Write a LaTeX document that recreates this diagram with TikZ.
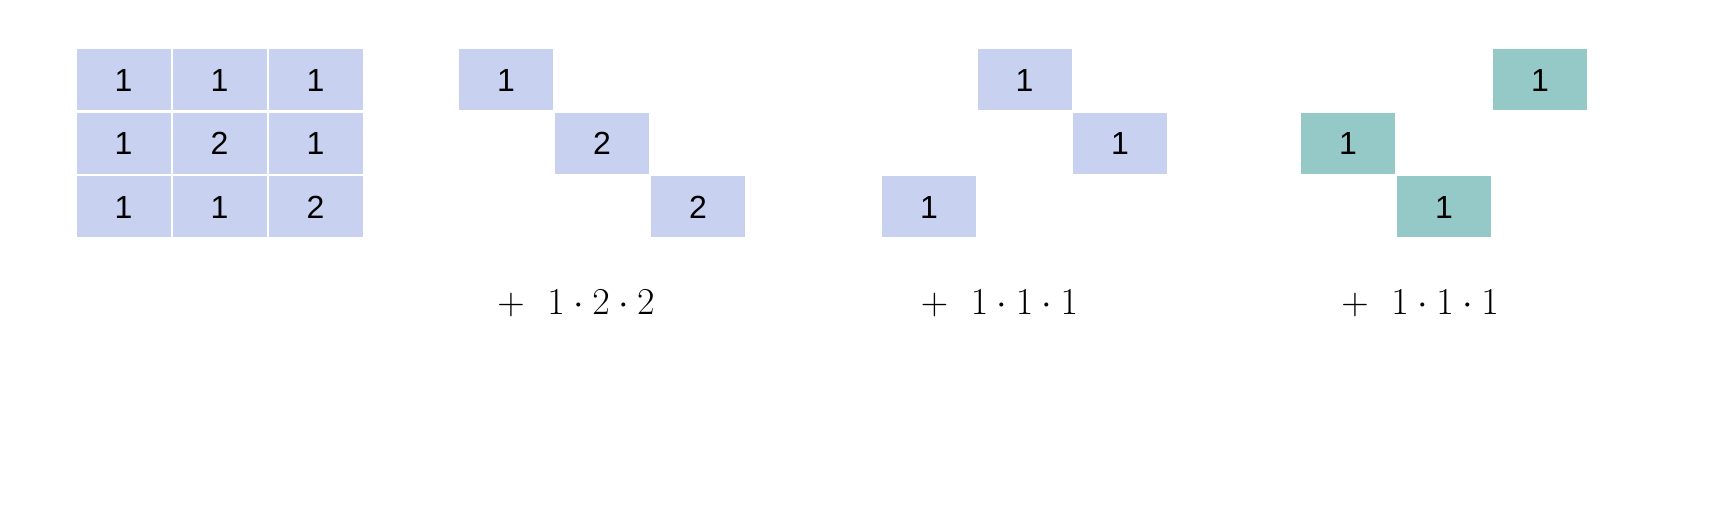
\RequirePackage{fix-cm}
\documentclass[tikz,border=0pt]{standalone}
\usepackage{fontspec}
\setsansfont{Liberation Sans}
\usepackage{tikz}
\usetikzlibrary{positioning}
\definecolor{cellblue}{RGB}{201,209,241}
\definecolor{cellteal}{RGB}{149,201,200}
\tikzset{
    cell/.style={rectangle, inner sep=0, minimum width=94pt, minimum height=61pt, fill=cellblue, font=\fontsize{32}{38}\selectfont\sffamily},
    tealcell/.style={cell, fill=cellteal},
    term/.style={inner sep=0, font=\fontsize{38}{46}\selectfont},
}
\begin{document}
\begin{tikzpicture}[x=1pt, y=-1pt]
    \useasboundingbox (0,0) rectangle (1720,526);

    % full matrix
    \node[cell] (m11) at (123.5,80) {1};
    \node[cell] (m12) at (219.5,80) {1};
    \node[cell] (m13) at (315.5,80) {1};
    \node[cell] (m21) at (123.5,143.5) {1};
    \node[cell] (m22) at (219.5,143.5) {2};
    \node[cell] (m23) at (315.5,143.5) {1};
    \node[cell] (m31) at (123.5,207) {1};
    \node[cell] (m32) at (219.5,207) {1};
    \node[cell] (m33) at (315.5,207) {2};

    % main diagonal
    \node[cell] (a1) at (506,80) {1};
    \node[cell] (a2) at (602,143.5) {2};
    \node[cell] (a3) at (698,207) {2};
    \node[term] (ta) at (576,303) {$+\hspace{0.6em}1\cdot 2\cdot 2$};

    % shifted diagonal
    \node[cell] (b1) at (1024.5,80) {1};
    \node[cell] (b2) at (1120,143.5) {1};
    \node[cell] (b3) at (929,207) {1};
    \node[term] (tb) at (999.5,303) {$+\hspace{0.6em}1\cdot 1\cdot 1$};

    % second shifted diagonal
    \node[tealcell] (c1) at (1540,80) {1};
    \node[tealcell] (c2) at (1348,143.5) {1};
    \node[tealcell] (c3) at (1444,207) {1};
    \node[term] (tc) at (1420,303) {$+\hspace{0.6em}1\cdot 1\cdot 1$};
\end{tikzpicture}
\end{document}
